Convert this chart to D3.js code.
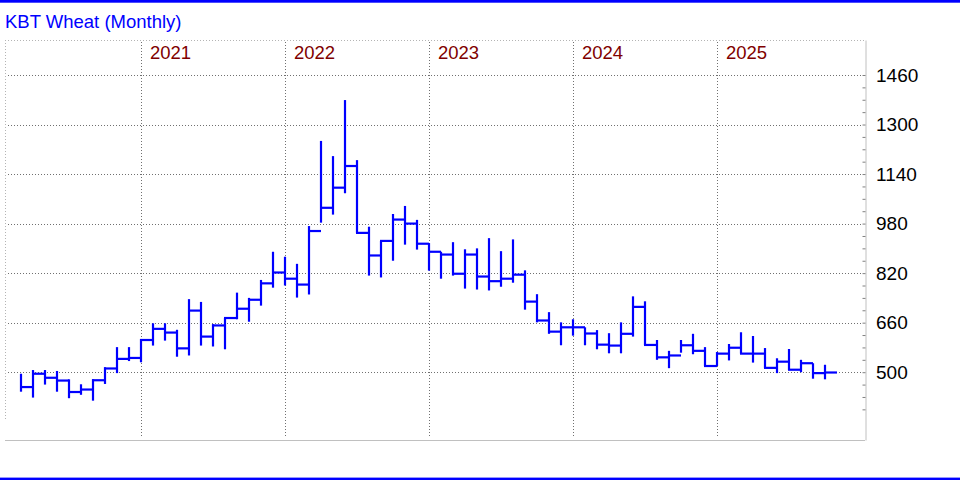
<!DOCTYPE html>
<html>
<head>
<meta charset="utf-8">
<script src="https://cdn.jsdelivr.net/npm/d3@7"></script>
<style>
  body { margin: 0; background: #fff; }
  #chart { width: 960px; height: 480px; }
  text { font-family: "Liberation Sans", Arial, sans-serif; }
</style>
</head>
<body>
<div id="chart"></div>
<script>
// monthly bars, Mar 2020 .. Oct 2025
var months = ["2020-03","2020-04","2020-05","2020-06","2020-07","2020-08","2020-09","2020-10","2020-11","2020-12",
  "2021-01","2021-02","2021-03","2021-04","2021-05","2021-06","2021-07","2021-08","2021-09","2021-10","2021-11","2021-12",
  "2022-01","2022-02","2022-03","2022-04","2022-05","2022-06","2022-07","2022-08","2022-09","2022-10","2022-11","2022-12",
  "2023-01","2023-02","2023-03","2023-04","2023-05","2023-06","2023-07","2023-08","2023-09","2023-10","2023-11","2023-12",
  "2024-01","2024-02","2024-03","2024-04","2024-05","2024-06","2024-07","2024-08","2024-09","2024-10","2024-11","2024-12",
  "2025-01","2025-02","2025-03","2025-04","2025-05","2025-06","2025-07","2025-08","2025-09","2025-10"];
var highs = [495,507,507,504,477,461,477,516,581,581,
  607,658,658,637,736,727,655,676,757,740,798,889,
  873,850,972,1247,1198,1379,1185,970,924,1011,1037,992,
  917,889,920,897,900,933,891,929,829,752,694,661,
  671,645,636,626,661,745,729,604,569,604,624,581,
  565,591,629,617,578,545,575,540,529,524];
var lows = [437,418,460,437,416,427,408,462,497,536,
  532,586,602,550,554,586,583,574,671,663,715,773,
  780,741,751,983,1009,1078,950,812,806,860,912,896,
  828,802,812,770,767,764,776,789,702,661,624,587,
  618,587,574,561,561,615,587,540,513,563,558,520,
  520,538,560,531,514,497,507,500,479,477];
var closes = [452,495,482,473,436,444,474,512,543,546,
  604,640,628,577,699,615,651,675,705,734,787,822,
  802,783,956,1031,1096,1166,950,877,924,993,980,915,
  889,880,818,880,809,794,802,815,728,667,631,645,
  645,625,589,586,624,711,588,548,554,587,569,520,
  560,579,560,560,514,534,508,529,497,499];
var years = [2021, 2022, 2023, 2024, 2025];
var priceTicks = [500, 660, 820, 980, 1140, 1300, 1460];

var width = 960, height = 480;
var plotL = 5, plotR = 865, plotT = 40, plotB = 440;

var svg = d3.select("#chart").append("svg")
  .attr("width", width)
  .attr("height", height);

// month number counted from Jan 2020
function monthNum(s) {
  var p = s.split("-");
  return (+p[0] - 2020) * 12 + (+p[1] - 1);
}

var x = d3.scaleLinear().domain([0.6667, 72.3333]).range([plotL, plotR]);
var y = d3.scaleLinear().domain([281, 1573]).range([plotB, plotT]);
var step = x(1) - x(0);

// blue frame lines
svg.append("rect").attr("x", 0).attr("y", 0).attr("width", width).attr("height", 2.7).attr("fill", "#0000ff");
svg.append("rect").attr("x", 0).attr("y", 477.6).attr("width", width).attr("height", 2.4).attr("fill", "#0000ff");

svg.append("text")
  .attr("x", 5).attr("y", 28)
  .attr("fill", "#0000ff")
  .style("font-size", "18.5px")
  .text("KBT Wheat (Monthly)");

// plot borders
svg.append("line").attr("x1", plotL).attr("x2", plotR).attr("y1", plotT + 0.5).attr("y2", plotT + 0.5)
  .attr("stroke", "#b4b4b4").attr("stroke-dasharray", "1,2");
svg.append("line").attr("x1", plotL + 0.5).attr("x2", plotL + 0.5).attr("y1", plotT).attr("y2", 421)
  .attr("stroke", "#b4b4b4").attr("stroke-dasharray", "1,2");
svg.append("line").attr("x1", plotL).attr("x2", plotR).attr("y1", plotB + 0.5).attr("y2", plotB + 0.5)
  .attr("stroke", "#c0c0c0");

// grid
svg.selectAll(".hgrid").data(priceTicks).enter().append("line")
  .attr("class", "hgrid")
  .attr("x1", plotL + 3).attr("x2", plotR - 3)
  .attr("y1", function(d) { return Math.round(y(d)) + 0.5; })
  .attr("y2", function(d) { return Math.round(y(d)) + 0.5; })
  .attr("stroke", "#707070").attr("stroke-dasharray", "1,2");

svg.selectAll(".vgrid").data(years).enter().append("line")
  .attr("class", "vgrid")
  .attr("x1", function(d) { return Math.round(x((d - 2020) * 12)) + 0.5; })
  .attr("x2", function(d) { return Math.round(x((d - 2020) * 12)) + 0.5; })
  .attr("y1", plotT + 2).attr("y2", plotB - 2)
  .attr("stroke", "#707070").attr("stroke-dasharray", "1,2");

svg.selectAll(".yearlab").data(years).enter().append("text")
  .attr("class", "yearlab")
  .attr("x", function(d) { return x((d - 2020) * 12) + 9; })
  .attr("y", 59)
  .attr("fill", "#800000")
  .style("font-size", "18.5px")
  .text(function(d) { return d; });

// right axis
var yAxis = d3.axisRight(y)
  .tickValues(d3.range(380, 1461, 40))
  .tickSize(0)
  .tickFormat("");
var ax = svg.append("g").attr("transform", "translate(" + (plotR + 0.5) + ",0)").call(yAxis);
ax.select(".domain").attr("stroke", "#c0c0c0");
ax.selectAll(".tick line").attr("x1", -3).attr("x2", 0).attr("stroke", "#808080");

svg.selectAll(".ylab").data(priceTicks).enter().append("text")
  .attr("class", "ylab")
  .attr("x", 876)
  .attr("y", function(d) { return y(d); })
  .attr("dy", "0.35em")
  .attr("fill", "#000")
  .style("font-size", "19px")
  .text(function(d) { return d; });

// bars
var bars = months.map(function(m, i) {
  return { m: monthNum(m), h: highs[i], l: lows[i], c: closes[i] };
});

var g = svg.append("g").attr("stroke", "#0000ff").attr("stroke-width", 2.2);
g.selectAll(".hl").data(bars).enter().append("line")
  .attr("class", "hl")
  .attr("x1", function(d) { return x(d.m); })
  .attr("x2", function(d) { return x(d.m); })
  .attr("y1", function(d) { return y(d.h); })
  .attr("y2", function(d) { return y(d.l); });
g.selectAll(".cl").data(bars).enter().append("line")
  .attr("class", "cl")
  .attr("x1", function(d) { return x(d.m) - 1; })
  .attr("x2", function(d) { return x(d.m) + step; })
  .attr("y1", function(d) { return y(d.c); })
  .attr("y2", function(d) { return y(d.c); });
</script>
</body>
</html>
